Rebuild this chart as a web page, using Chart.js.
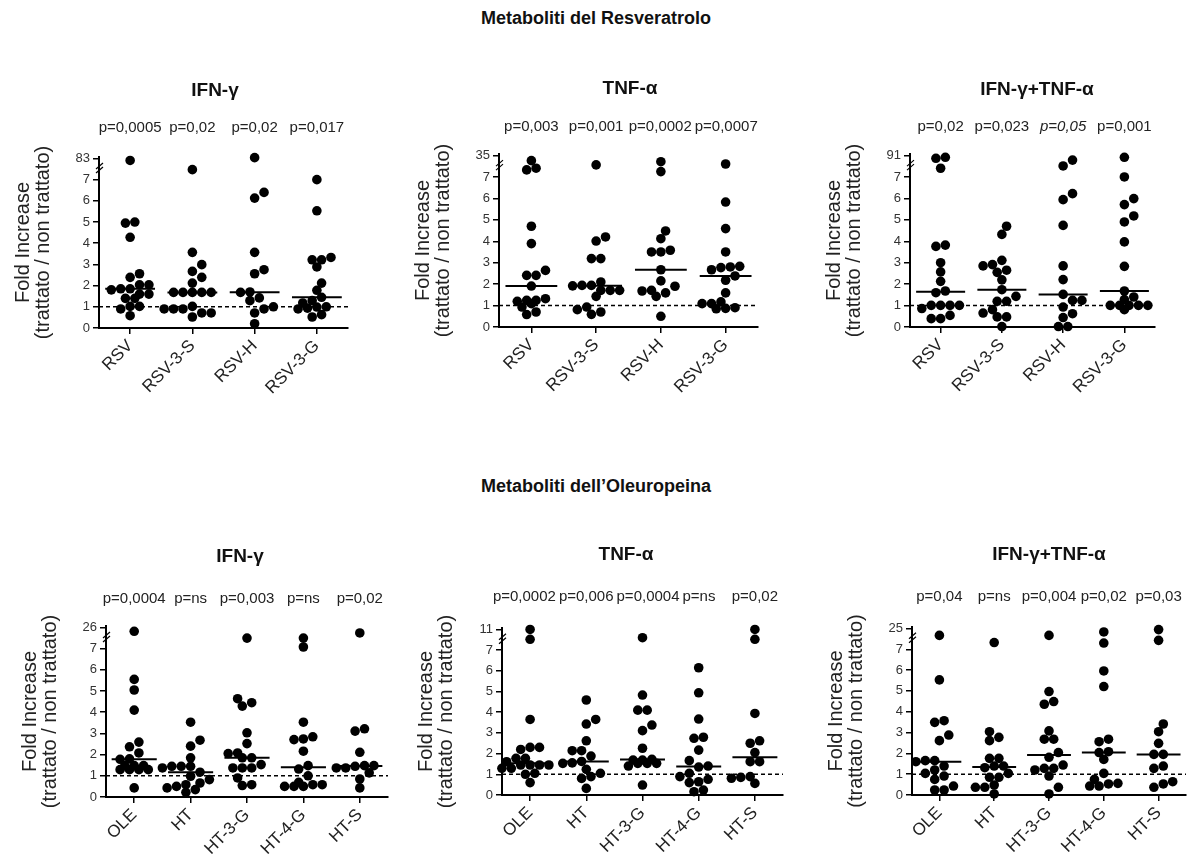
<!DOCTYPE html>
<html>
<head>
<meta charset="utf-8">
<script src="https://cdn.jsdelivr.net/npm/chart.js@4"></script>
<style>
  html, body { margin: 0; padding: 0; background: #fff; }
  body { width: 1192px; height: 854px; position: relative; overflow: hidden;
         font-family: "Liberation Sans", Arial, sans-serif; }
  .section { position: absolute; left: 0; width: 1192px; text-align: center;
             font-weight: bold; font-size: 18px; color: #111; line-height: 20px; }
  canvas { position: absolute; }
</style>
</head>
<body>
<div class="section" style="top:8px">Metaboliti del Resveratrolo</div>
<div class="section" style="top:476px">Metaboliti dell’Oleuropeina</div>
<script>
// ---------- categories ----------
const rsvCategories = ['RSV', 'RSV-3-S', 'RSV-H', 'RSV-3-G'];
const oleCategories = ['OLE', 'HT', 'HT-3-G', 'HT-4-G', 'HT-S'];

// ---------- fold increase per donor (one inner array per category) ----------
const ifnRsvValues = [
  [76, 5.0, 4.95, 4.28, 2.56, 2.39, 2.04, 2.04, 1.85, 1.85, 1.8, 1.6, 1.6, 1.4, 1.4, 1.02, 1.02, 0.9, 0.58],
  [43, 3.57, 2.99, 2.67, 2.39, 2.12, 1.68, 1.68, 1.68, 1.68, 1.68, 1.02, 0.9, 0.9, 0.9, 0.71, 0.71, 0.52],
  [86, 6.4, 6.13, 3.57, 2.75, 2.56, 1.7, 1.68, 1.42, 1.29, 1.0, 0.9, 0.71, 0.2],
  [7.0, 5.53, 3.33, 3.22, 3.22, 2.88, 2.12, 1.78, 1.45, 1.29, 1.18, 1.0, 0.99, 0.94, 0.9, 0.63, 0.52]
];
const tnfRsvValues = [
  [28.3, 18.4, 16.2, 4.7, 3.89, 2.64, 2.41, 2.41, 1.91, 1.32, 1.24, 1.24, 1.2, 1.09, 0.93, 0.7, 0.58],
  [22.7, 4.2, 4.01, 3.19, 3.19, 2.1, 1.94, 1.94, 1.92, 1.71, 1.71, 1.71, 1.43, 0.93, 0.81, 0.7, 0.59],
  [26.9, 14.0, 4.48, 4.12, 3.58, 3.5, 3.5, 2.67, 2.15, 1.9, 1.71, 1.68, 1.59, 1.43, 0.5],
  [23.9, 5.83, 4.59, 3.5, 2.83, 2.8, 2.77, 2.67, 2.38, 2.18, 1.59, 1.17, 1.09, 1.09, 0.9, 0.87, 0.85]
];
const comboRsvValues = [
  [84, 80, 41, 3.82, 3.76, 3.0, 2.57, 2.13, 1.68, 1.6, 1.01, 1.01, 1.01, 1.01, 0.86, 0.54, 0.39, 0.39],
  [4.7, 4.32, 3.11, 2.91, 2.85, 2.65, 2.55, 2.2, 1.74, 1.43, 1.2, 1.2, 0.81, 0.65, 0.47, 0.47, 0.02],
  [73, 50, 6.22, 5.94, 4.74, 2.85, 2.21, 1.52, 1.24, 1.24, 0.93, 0.62, 0.44, 0.02, 0.02],
  [84, 7.0, 5.99, 5.71, 5.18, 4.9, 3.97, 2.83, 1.68, 1.4, 1.28, 1.01, 1.01, 1.01, 1.01, 1.01, 0.81]
];
const ifnOleValues = [
  [22.6, 5.55, 5.05, 4.1, 2.59, 2.37, 2.08, 1.8, 1.78, 1.48, 1.48, 1.48, 1.29, 1.29, 1.29, 1.29, 0.43],
  [3.53, 2.68, 2.4, 1.85, 1.45, 1.45, 1.45, 1.37, 1.17, 0.98, 0.82, 0.66, 0.58, 0.5, 0.43, 0.35, 0.22],
  [16.5, 4.64, 4.45, 4.29, 3.03, 2.52, 2.08, 2.05, 1.85, 1.85, 1.53, 1.37, 1.37, 1.37, 0.9, 0.58, 0.54],
  [16.5, 8.5, 3.53, 2.84, 2.74, 2.71, 2.16, 1.48, 1.32, 1.0, 0.69, 0.58, 0.58, 0.5, 0.5, 0.5],
  [21.1, 3.22, 3.11, 2.11, 1.48, 1.48, 1.45, 1.37, 1.37, 1.14, 0.85, 0.43]
];
const tnfOleValues = [
  [11, 9.1, 3.65, 2.3, 2.3, 2.2, 1.77, 1.77, 1.61, 1.45, 1.45, 1.45, 1.45, 1.29, 1.29, 1.05, 1.0, 0.6],
  [4.59, 3.65, 3.43, 2.62, 2.14, 2.14, 1.88, 1.62, 1.55, 1.53, 1.24, 1.05, 0.89, 0.8, 0.32],
  [9.4, 4.83, 4.1, 4.1, 3.38, 3.11, 2.26, 1.72, 1.69, 1.69, 1.53, 1.53, 1.53, 1.4, 0.48],
  [6.15, 4.94, 3.67, 2.79, 2.74, 2.17, 1.66, 1.4, 1.35, 1.05, 0.89, 0.76, 0.64, 0.6, 0.24, 0.16],
  [11, 9.1, 3.94, 2.62, 2.5, 2.05, 1.61, 1.61, 0.89, 0.85, 0.81, 0.56]
];
const comboOleValues = [
  [19, 5.53, 3.57, 3.49, 2.88, 2.61, 1.65, 1.65, 1.6, 1.39, 1.2, 1.04, 0.91, 0.75, 0.43, 0.24, 0.24],
  [12.8, 3.04, 2.77, 2.61, 1.76, 1.76, 1.39, 1.39, 1.31, 1.04, 0.85, 0.85, 0.48, 0.37, 0.37, 0.05],
  [19, 4.97, 4.49, 4.36, 3.08, 2.68, 2.68, 2.04, 1.81, 1.44, 1.28, 1.28, 1.2, 0.91, 0.37, 0.05],
  [22, 12.4, 5.96, 5.21, 2.68, 2.56, 2.08, 2.04, 1.71, 1.04, 0.75, 0.56, 0.53, 0.43, 0.43],
  [24, 14.7, 3.41, 3.04, 2.48, 1.95, 1.95, 1.39, 1.28, 0.64, 0.53, 0.37]
];

// ---------- p-values shown above each column ----------
const ifnRsvP   = ['p=0,0005', 'p=0,02', 'p=0,02', 'p=0,017'];
const tnfRsvP   = ['p=0,003', 'p=0,001', 'p=0,0002', 'p=0,0007'];
const comboRsvP = ['p=0,02', 'p=0,023', 'p=0,05', 'p=0,001'];
const comboRsvItalic = [2];               // borderline value printed in italics
const ifnOleP   = ['p=0,0004', 'p=ns', 'p=0,003', 'p=ns', 'p=0,02'];
const tnfOleP   = ['p=0,0002', 'p=0,006', 'p=0,0004', 'p=ns', 'p=0,02'];
const comboOleP = ['p=0,04', 'p=ns', 'p=0,004', 'p=0,02', 'p=0,03'];

// ---------- broken axis: 0..7 linear, then one segment up to the top value ----------
const yTicks = [0, 1, 2, 3, 4, 5, 6, 7];
const breakAt = 7;
const ifnRsvTop = 83, tnfRsvTop = 35, comboRsvTop = 91;
const ifnOleTop = 26, tnfOleTop = 11, comboOleTop = 25;
const baseline = 1;   // untreated level

const FONT = '"Liberation Sans", Arial, sans-serif';
const Y_W = 99, X_H = 74, PAD_TOP = 86, PAD_RIGHT = 8;
const Y_MAX = 8.07;          // axis units (top tick sits at 8)
const DOT_R = 4.8;

const panels = [
  { title: 'IFN-γ', cats: rsvCategories, values: ifnRsvValues, pvals: ifnRsvP, italic: [], top: ifnRsvTop,
    box: { left: 99, right: 348, bottom: 328, unit: 21.14 }, titleAt: [215, 91], pY: 128 },
  { title: 'TNF-α', cats: rsvCategories, values: tnfRsvValues, pvals: tnfRsvP, italic: [], top: tnfRsvTop,
    box: { left: 499, right: 758, bottom: 327, unit: 21.43 }, titleAt: [630, 89], pY: 127 },
  { title: 'IFN-γ+TNF-α', cats: rsvCategories, values: comboRsvValues, pvals: comboRsvP, italic: comboRsvItalic, top: comboRsvTop,
    box: { left: 910, right: 1155, bottom: 327, unit: 21.43 }, titleAt: [1037, 90], pY: 127 },
  { title: 'IFN-γ', cats: oleCategories, values: ifnOleValues, pvals: ifnOleP, italic: [], top: ifnOleTop,
    box: { left: 106, right: 388, bottom: 797, unit: 21.14 }, titleAt: [240, 557], pY: 599 },
  { title: 'TNF-α', cats: oleCategories, values: tnfOleValues, pvals: tnfOleP, italic: [], top: tnfOleTop,
    box: { left: 502, right: 783, bottom: 795, unit: 20.7 }, titleAt: [626, 555], pY: 597 },
  { title: 'IFN-γ+TNF-α', cats: oleCategories, values: comboOleValues, pvals: comboOleP, italic: [], top: comboOleTop,
    box: { left: 912, right: 1186, bottom: 795, unit: 20.86 }, titleAt: [1049, 555], pY: 597 }
];

// map a fold value onto the broken axis
function toAxis(v, top) {
  return v <= breakAt ? v : breakAt + (v - breakAt) / (top - breakAt);
}
function median(arr) {
  const s = [...arr].sort((a, b) => a - b);
  const m = s.length >> 1;
  return s.length % 2 ? s[m] : (s[m - 1] + s[m]) / 2;
}
// column-scatter layout: dots of nearly equal value share a centred row,
// a row slides sideways when it would sit on the rows already placed
function columnOffsets(disp, pxX, pxY) {
  const rowTol = 3.5, step = 9.4, minDist = 8.3;
  const order = disp.map((v, i) => i).sort((a, b) => disp[a] - disp[b]);
  const rows = [];
  let cur = null;
  for (const i of order) {
    const y = disp[i] * pxY;
    if (!cur || y - cur.y0 > rowTol) { cur = { y0: y, idx: [] }; rows.push(cur); }
    cur.idx.push(i);
  }
  const placed = [];
  const out = new Array(disp.length).fill(0);
  const shifts = [0, step / 2, -step / 2, step, -step, 1.5 * step, -1.5 * step];
  for (const r of rows) {
    const m = r.idx.length;
    const base = r.idx.map((_, k) => (k - (m - 1) / 2) * step);
    let best = 0, bestScore = -1;
    for (const s of shifts) {
      let score = Infinity;
      r.idx.forEach((i, k) => {
        const x = base[k] + s, y = disp[i] * pxY;
        placed.forEach(q => { score = Math.min(score, Math.hypot(q.x - x, q.y - y)); });
      });
      if (score >= minDist) { best = s; bestScore = score; break; }
      if (score > bestScore) { bestScore = score; best = s; }
    }
    r.idx.forEach((i, k) => {
      const x = base[k] + best;
      placed.push({ x, y: disp[i] * pxY });
      out[i] = x / pxX;
    });
  }
  return out;
}

panels.forEach(p => {
  const n = p.cats.length;
  const plotW = p.box.right - p.box.left;
  const plotH = Math.round(Y_MAX * p.box.unit);
  const chartTop = p.box.bottom - plotH;
  const cvLeft = p.box.left - Y_W;
  const cvTop = chartTop - PAD_TOP;

  const cv = document.createElement('canvas');
  cv.width = Y_W + plotW + PAD_RIGHT;
  cv.height = PAD_TOP + plotH + X_H;
  cv.style.left = cvLeft + 'px';
  cv.style.top = cvTop + 'px';
  document.body.appendChild(cv);

  const pxX = plotW / n;
  const pxY = plotH / Y_MAX;
  const dots = [];
  const medians = [];
  p.values.forEach((vals, i) => {
    const disp = vals.map(v => toAxis(v, p.top));
    const offs = columnOffsets(disp, pxX, pxY);
    disp.forEach((d, j) => dots.push({ x: i + 1 + offs[j], y: d }));
    const m = toAxis(median(vals), p.top);
    medians.push({ x: i + 1 - 0.4, y: m }, { x: i + 1 + 0.4, y: m }, { x: i + 1.5, y: null });
  });

  const textPlugin = {
    id: 'panelText',
    afterDraw(chart) {
      const { ctx, chartArea, scales } = chart;
      ctx.save();
      // panel title
      ctx.fillStyle = '#111';
      ctx.font = 'bold 19px ' + FONT;
      ctx.textAlign = 'center';
      ctx.textBaseline = 'middle';
      ctx.fillText(p.title, p.titleAt[0] - cvLeft, p.titleAt[1] - cvTop);

      // p-values, centred on their column and pushed apart if they touch
      ctx.fillStyle = '#222';
      const items = p.pvals.map((t, i) => {
        const it = p.italic.includes(i);
        ctx.font = (it ? 'italic ' : '') + '15px ' + FONT;
        return { t, it, w: ctx.measureText(t).width, c: scales.x.getPixelForValue(i + 1) };
      });
      const gap = 3;
      for (let iter = 0; iter < 30; iter++) {
        for (let i = 0; i < items.length - 1; i++) {
          const a = items[i], b = items[i + 1];
          const ov = (a.c + a.w / 2 + gap) - (b.c - b.w / 2);
          if (ov > 0) { a.c -= ov / 2; b.c += ov / 2; }
        }
      }
      items.forEach(o => {
        ctx.font = (o.it ? 'italic ' : '') + '15px ' + FONT;
        ctx.fillText(o.t, o.c, p.pY - cvTop);
      });

      // axis break marks
      const bx = chartArea.left, by = scales.y.getPixelForValue(7.55);
      ctx.strokeStyle = '#000';
      ctx.lineWidth = 1.2;
      [-2, 2].forEach(d => {
        ctx.beginPath();
        ctx.moveTo(bx - 3, by + 3 + d);
        ctx.lineTo(bx + 4, by - 3 + d);
        ctx.stroke();
      });
      ctx.restore();
    }
  };

  new Chart(cv, {
    type: 'scatter',
    data: {
      datasets: [
        { type: 'scatter', data: dots, pointRadius: DOT_R, pointHoverRadius: DOT_R,
          pointBackgroundColor: '#000', pointBorderWidth: 0, showLine: false, clip: false, order: 0 },
        { type: 'line', data: medians, borderColor: '#000', borderWidth: 2, pointRadius: 0,
          spanGaps: false, fill: false, order: 1 },
        { type: 'line', data: [{ x: 0.5, y: baseline }, { x: n + 0.5, y: baseline }],
          borderColor: '#000', borderWidth: 1.5, borderDash: [4, 3], pointRadius: 0, fill: false, order: 2 }
      ]
    },
    options: {
      responsive: false,
      devicePixelRatio: 1,
      animation: false,
      events: [],
      layout: { padding: { top: PAD_TOP, right: PAD_RIGHT, left: 0, bottom: 0 }, autoPadding: false },
      plugins: { legend: { display: false }, tooltip: { enabled: false }, title: { display: false } },
      scales: {
        x: {
          type: 'linear', min: 0.5, max: n + 0.5,
          afterBuildTicks: s => { s.ticks = p.cats.map((c, i) => ({ value: i + 1 })); },
          afterFit: s => { s.height = X_H; },
          ticks: { callback: v => p.cats[Math.round(v) - 1] ?? '', minRotation: 45, maxRotation: 45,
                   autoSkip: false, font: { family: FONT, size: 17 }, color: '#222', padding: 2 },
          grid: { drawOnChartArea: false, drawTicks: true, tickLength: 6, color: '#000', lineWidth: 1.5 },
          border: { display: true, color: '#000', width: 2 }
        },
        y: {
          type: 'linear', min: 0, max: Y_MAX,
          afterBuildTicks: s => { s.ticks = yTicks.concat([8]).map(v => ({ value: v })); },
          afterFit: s => { s.width = Y_W; },
          ticks: { callback: v => (v === 8 ? String(p.top) : String(v)),
                   font: { family: FONT, size: 13 }, color: '#333', padding: 3 },
          grid: { drawOnChartArea: false, drawTicks: true, tickLength: 6, color: '#000', lineWidth: 1.5 },
          border: { display: true, color: '#000', width: 2 },
          title: { display: true, text: ['Fold Increase', '(trattato / non trattato)'],
                   font: { family: FONT, size: 20, lineHeight: 1.0 }, color: '#222',
                   padding: { top: 13, bottom: 0 } }
        }
      }
    },
    plugins: [textPlugin]
  });
});
</script>
</body>
</html>
